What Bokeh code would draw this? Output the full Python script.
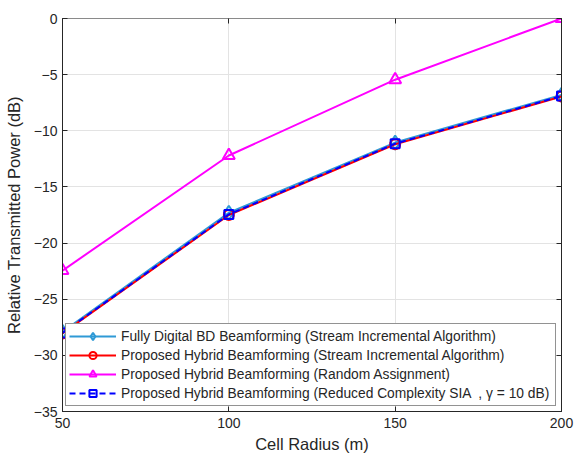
from bokeh.plotting import figure
from bokeh.models import LinearAxis, FixedTicker, Range1d, CustomLabelingPolicy
from bokeh.embed import file_html
from bokeh.resources import INLINE

radius = [50, 100, 150, 200]
fully_digital = [-27.9, -17.3, -11.05, -6.8]
hybrid_sia = [-28.05, -17.5, -11.2, -6.95]
hybrid_random = [-22.45, -12.2, -5.45, 0.0]
hybrid_reduced = [-28.0, -17.45, -11.15, -6.9]

x_ticks = [50, 100, 150, 200]
y_ticks = [-35, -30, -25, -20, -15, -10, -5, 0]

labels = [
    "Fully Digital BD Beamforming (Stream Incremental Algorithm)",
    "Proposed Hybrid Beamforming (Stream Incremental Algorithm)",
    "Proposed Hybrid Beamforming (Random Assignment)",
    "Proposed Hybrid Beamforming (Reduced Complexity SIA  , \u03b3 = 10 dB)",
]

FONT = "Liberation Sans"
TXT = "#262626"

p = figure(width=575, height=458, output_backend="svg", toolbar_location=None,
           x_range=Range1d(50, 200), y_range=Range1d(-35, 0),
           min_border_left=62, min_border_right=14, min_border_top=18, min_border_bottom=47,
           x_axis_label="Cell Radius (m)", y_axis_label="Relative Transmitted Power (dB)")
p.outline_line_color = TXT
p.outline_line_width = 1
p.background_fill_color = "white"
p.border_fill_color = "white"

for ax in (p.xaxis[0], p.yaxis[0]):
    ax.major_tick_in = 5
    ax.major_tick_out = 0
    ax.minor_tick_in = 0
    ax.minor_tick_out = 0
    ax.axis_line_color = TXT
    ax.major_tick_line_color = TXT
    ax.major_label_text_font = FONT
    ax.major_label_text_font_size = "14px"
    ax.major_label_text_color = TXT
    ax.axis_label_text_font = FONT
    ax.axis_label_text_font_size = "16.5px"
    ax.axis_label_text_font_style = "normal"
    ax.axis_label_text_color = TXT
    ax.major_label_standoff = 6
    ax.axis_label_standoff = 4
p.xaxis[0].ticker = FixedTicker(ticks=x_ticks)
p.yaxis[0].ticker = FixedTicker(ticks=y_ticks)
p.yaxis[0].major_label_standoff = 5
p.yaxis[0].axis_label_standoff = 8

hide_all = "const all = [...indices]; for (const i of all) indices.unset(i)"
top = LinearAxis(ticker=FixedTicker(ticks=x_ticks), major_tick_in=5, major_tick_out=0,
                 minor_tick_in=0, minor_tick_out=0, major_label_text_font_size="1px",
                 major_label_policy=CustomLabelingPolicy(code=hide_all),
                 axis_line_color="#8a8a8a", major_tick_line_color=TXT, major_label_standoff=0)
right = LinearAxis(ticker=FixedTicker(ticks=y_ticks), major_tick_in=5, major_tick_out=0,
                   minor_tick_in=0, minor_tick_out=0, major_label_text_font_size="1px",
                   major_label_policy=CustomLabelingPolicy(code=hide_all),
                   axis_line_color=TXT, major_tick_line_color=TXT, major_label_standoff=0)
p.add_layout(top, "above")
p.add_layout(right, "right")

p.xgrid.grid_line_color = "#e3e3e3"
p.ygrid.grid_line_color = "#e3e3e3"
p.xgrid.ticker = FixedTicker(ticks=x_ticks)
p.ygrid.ticker = FixedTicker(ticks=y_ticks)

series = [
    (fully_digital, "#2f9ad6", "diamond", "solid", 14, labels[0]),
    (hybrid_sia, "#ff0000", "circle", "solid", 10, labels[1]),
    (hybrid_random, "#ff00ff", "triangle", "solid", 12, labels[2]),
    (hybrid_reduced, "#0000ff", "square", "6 4", 9, labels[3]),
]
for ys, col, mk, dash, sz, lab in series:
    p.line(radius, ys, line_color=col, line_width=2, line_dash=dash, legend_label=lab)
    p.scatter(radius, ys, marker=mk, size=sz, line_color=col, line_width=2,
              fill_color=None, legend_label=lab)

lg = p.legend[0]
lg.location = "bottom_right"
lg.margin = 5
lg.padding = 3
lg.spacing = 1
lg.glyph_width = 47
lg.glyph_height = 18
lg.label_height = 18
lg.label_standoff = 5
lg.label_width = 431
lg.label_text_font = FONT
lg.label_text_font_size = "13.8px"
lg.label_text_color = TXT
lg.border_line_color = TXT
lg.border_line_width = 1
lg.background_fill_color = "white"
lg.background_fill_alpha = 1.0

open("out.html", "w").write(file_html(p, INLINE))
